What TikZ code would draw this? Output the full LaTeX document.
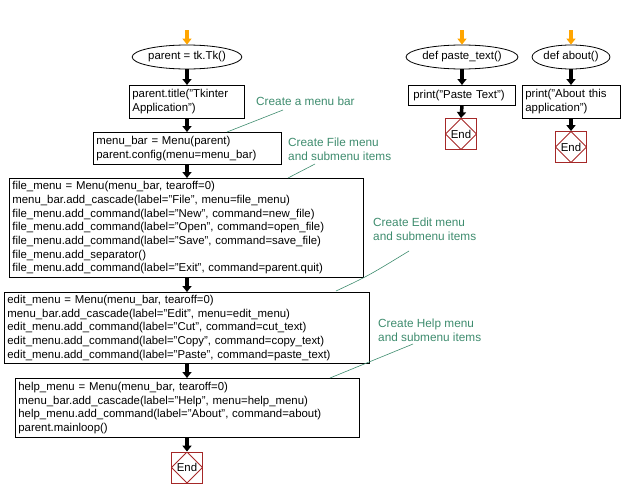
\documentclass[tikz,border=0pt]{standalone}
\usepackage{fontspec}
\setmainfont{Liberation Sans}
\usetikzlibrary{shapes.geometric,arrows.meta}
\definecolor{cmt}{RGB}{62,140,110}
\definecolor{endred}{RGB}{165,40,40}
\definecolor{startor}{RGB}{255,165,0}
\tikzset{
  every node/.style={font=\fontsize{11.4}{13.7}\selectfont},
  box/.style={draw, line width=0.8pt, anchor=north west, align=left, inner xsep=3pt, inner ysep=1.5pt},
  oval/.style={draw, ellipse, line width=0.8pt, inner sep=0pt},
  endnode/.style={draw=endred, line width=0.8pt, minimum size=31pt, inner sep=0pt,
    path picture={\draw[endred, line width=0.8pt] (path picture bounding box.north) -- (path picture bounding box.east) -- (path picture bounding box.south) -- (path picture bounding box.west) -- cycle;}},
  flow/.style={line width=3.5pt, -{Triangle[length=6pt,width=9pt]}, shorten >=0pt},
  startarrow/.style={startor, line width=3.5pt, -{Triangle[length=6pt,width=9pt]}},
  note/.style={text=cmt, align=left, anchor=north west, inner sep=0pt, font=\fontsize{11.8}{13.7}\selectfont},
  noteline/.style={cmt, line width=0.6pt},
}
\begin{document}
\begin{tikzpicture}[x=1pt,y=-1pt]
\useasboundingbox (0,0) rectangle (622,498);

% main column
\coordinate (s1) at (187,30);
\node[oval, minimum width=98pt, minimum height=24pt] (e1) at (187,57) {parent = tk.Tk()};
\node[box, minimum width=115pt, minimum height=33pt, text width=109pt] (b1) at (129,85) {parent.title("Tkinter\\Application")};
\node[box, minimum width=188pt, minimum height=32pt, text width=182pt] (b2) at (93,132) {menu\_bar = Menu(parent)\\parent.config(menu=menu\_bar)};
\node[box, minimum width=354pt, minimum height=99pt, text width=348pt] (b3) at (9,178) {file\_menu = Menu(menu\_bar, tearoff=0)\\menu\_bar.add\_cascade(label="File", menu=file\_menu)\\file\_menu.add\_command(label="New", command=new\_file)\\file\_menu.add\_command(label="Open", command=open\_file)\\file\_menu.add\_command(label="Save", command=save\_file)\\file\_menu.add\_separator()\\file\_menu.add\_command(label="Exit", command=parent.quit)};
\node[box, minimum width=365pt, minimum height=71pt, text width=359pt] (b4) at (4,292) {edit\_menu = Menu(menu\_bar, tearoff=0)\\menu\_bar.add\_cascade(label="Edit", menu=edit\_menu)\\edit\_menu.add\_command(label="Cut", command=cut\_text)\\edit\_menu.add\_command(label="Copy", command=copy\_text)\\edit\_menu.add\_command(label="Paste", command=paste\_text)};
\node[box, minimum width=344pt, minimum height=59pt, text width=338pt] (b5) at (15,378) {help\_menu = Menu(menu\_bar, tearoff=0)\\menu\_bar.add\_cascade(label="Help", menu=help\_menu)\\help\_menu.add\_command(label="About", command=about)\\parent.mainloop()};
\node[endnode] (x1) at (187,467.5) {End};

\draw[startarrow] (s1) -- (e1.north);
\draw[flow] (e1.south) -- (b1.north -| e1.south);
\draw[flow] (b1.south -| e1.south) -- (b2.north -| e1.south);
\draw[flow] (b2.south -| e1.south) -- (b3.north -| e1.south);
\draw[flow] (b3.south -| e1.south) -- (b4.north -| e1.south);
\draw[flow] (b4.south -| e1.south) -- (b5.north -| e1.south);
\draw[flow] (b5.south -| e1.south) -- (x1.north);

% comments
\node[note] (n1) at (256,97) {Create a menu bar};
\coordinate (n1a) at (283,110);
\coordinate (n1b) at (227,132);
\draw[noteline] (n1a) -- (n1b);

\node[note] (n2) at (288,138) {Create File menu\\and submenu items};
\coordinate (n2a) at (315,164);
\coordinate (n2b) at (288,178);
\draw[noteline] (n2a) -- (n2b);

\node[note] (n3) at (373,218) {Create Edit menu\\and submenu items};
\coordinate (n3a) at (409,251);
\coordinate (n3b) at (336,291);
\draw[noteline] (n3a) .. controls (368,276) .. (n3b);

\node[note] (n4) at (378,319) {Create Help menu\\and submenu items};
\coordinate (n4a) at (413,344);
\coordinate (n4b) at (330,378);
\draw[noteline] (n4a) -- (n4b);

% paste_text
\coordinate (s2) at (462,30);
\node[oval, minimum width=99pt, minimum height=24pt] (e2) at (462,57) {def paste\_text()};
\node[box, minimum width=107pt, minimum height=20pt, text width=101pt] (b6) at (408,85) {\hspace*{2pt}print("Paste Text")};
\node[endnode] (x2) at (461,134) {End};
\draw[startarrow] (s2) -- (e2.north);
\draw[flow] (e2.south) -- (b6.north -| e2.south);
\draw[flow] (b6.south -| e2.south) -- (x2.north);

% about
\coordinate (s3) at (571,30);
\node[oval, minimum width=73pt, minimum height=24pt] (e3) at (571,57) {def about()};
\node[box, minimum width=98pt, minimum height=33pt, text width=92pt] (b7) at (522,85) {print("About this\\application")};
\node[endnode] (x3) at (571,147) {End};
\draw[startarrow] (s3) -- (e3.north);
\draw[flow] (e3.south) -- (b7.north -| e3.south);
\draw[flow] (b7.south -| e3.south) -- (x3.north);
\end{tikzpicture}
\end{document}
